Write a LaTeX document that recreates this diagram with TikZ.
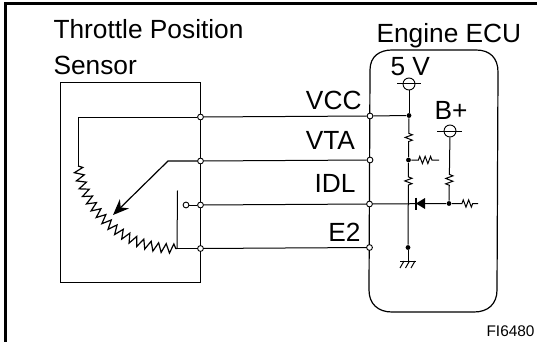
\documentclass[tikz,border=0pt]{standalone}
\usepackage{fontspec}
\setmainfont{Liberation Sans}
\usepackage{tikz}
\usetikzlibrary{arrows.meta,decorations.pathmorphing}
\tikzset{
	lbl/.style={inner sep=0pt,font=\fontsize{26.3}{30}\selectfont},
	smalllbl/.style={inner sep=0pt,font=\fontsize{15.4}{18}\selectfont},
	term/.style={circle,draw,fill=white,inner sep=0pt,minimum size=5.8pt,line width=0.9pt},
	junc/.style={circle,fill=black,inner sep=0pt,minimum size=4.8pt},
	supply/.style={circle,draw,fill=white,inner sep=0pt,minimum size=12pt,line width=0.9pt},
	res/.style={decorate,decoration={zigzag,segment length=5.4pt,amplitude=3.6pt}},
	potres/.style={decorate,decoration={zigzag,segment length=8pt,amplitude=4.6pt}},
}
\begin{document}
\begin{tikzpicture}[x=1pt,y=-1pt,line width=1pt]
		\useasboundingbox (0,0) rectangle (537,342);
		\def\sensorbox{(60.5,83) -- (200.5,83) -- (200.5,282.5) -- (60.5,282.5) -- cycle}
		\def\ecubox{(370,70) .. controls (370,56) and (380,50) .. (392,50) -- (476,50) .. controls (490,50) and (498,58) .. (498,72) -- (497,290) .. controls (497,304) and (488,312) .. (474,312) -- (392,312) .. controls (378,312) and (369,304) .. (369,290) -- cycle}
		\draw[line width=3pt] (537,4) -- (5,4) -- (5,342);
		\draw \sensorbox;
		\draw[line width=1.2pt] \ecubox;
		\node[lbl,anchor=base west] (throttle) at (53,39) {Throttle Position};
		\node[lbl,anchor=base west] (sensor) at (53,75) {Sensor};
		\node[lbl,anchor=base west] (ecu) at (376,43) {Engine ECU};
		\node[lbl,anchor=base west] (fivev) at (390,75.5) {5 V};
		\node[lbl,anchor=base west] (bplus) at (434,119) {B+};
		\node[lbl,anchor=base east] (vcc) at (362,110) {VCC};
		\node[lbl,anchor=base east] (vta) at (355.5,149) {VTA};
		\node[lbl,anchor=base east] (idl) at (356,192.5) {IDL};
		\node[lbl,anchor=base east] (etwo) at (361,241) {E2};
		\node[smalllbl,anchor=base east] (code) at (535,336) {FI6480};
		\node[term] (svcc) at (200.5,117) {};
		\node[term] (svta) at (200.5,161) {};
		\node[term] (sidl) at (200.5,205) {};
		\node[term] (setwo) at (200.5,248.5) {};
		\node[term] (evcc) at (370,116) {};
		\node[term] (evta) at (370,160) {};
		\node[term] (eidl) at (369.5,204) {};
		\node[term] (eetwo) at (369.5,247.5) {};
		\node[term] (contact) at (186,205) {};
		\node[supply] (fivesup) at (409,84) {};
		\node[supply] (bsup) at (450,131) {};
		\node[junc] (jvcc) at (409,115.5) {};
		\node[junc] (jvta) at (408.5,160) {};
		\node[junc] (jetwo) at (408,247.5) {};
		\node[junc] (jb) at (449,203.5) {};
		\coordinate (vccbend) at (78,117);
		\coordinate (potstart) at (78,166);
		\coordinate (potend) at (177,248.5);
		\coordinate (wiperbend) at (168,161);
		\coordinate (wipertip) at (113,215);
		\coordinate (contacttop) at (177.5,190.5);
		\coordinate (pullvta) at (439,160);
		\coordinate (pullb) at (478,203.5);
		\coordinate (gnd) at (408,261);
		\draw (svcc) -- (evcc);
		\draw (svta) -- (evta);
		\draw (sidl) -- (eidl);
		\draw (setwo) -- (eetwo);
		\draw (svcc) -- (vccbend) -- (potstart);
		\draw[line width=1.2pt,potres] (potstart) .. controls (83,207) and (120,250) .. (potend);
		\draw (potend) -- (setwo);
		\draw (potend) -- (contacttop);
		\draw (contact) -- (sidl);
		\draw[line width=1.2pt,-{Stealth[length=16pt,width=13pt]}] (svta) -- (wiperbend) -- (wipertip);
		\draw (evcc) -- (jvcc);
		\draw (fivesup) -- (jvcc);
		\draw[decoration={pre length=15pt,post length=14pt},res] (jvcc) -- (jvta);
		\draw[decoration={pre length=14pt,post length=57pt},res] (jvta) -- (jetwo);
		\draw[decoration={pre length=7pt,post length=6pt},res] (jvta) -- (pullvta);
		\draw[decoration={pre length=37pt,post length=13pt},res] (bsup) -- (jb);
		\draw[decoration={pre length=10pt,post length=5pt},res] (jb) -- (pullb);
		\draw (jetwo) -- (gnd);
		\draw ([xshift=-12pt]fivesup.center) -- ([xshift=12pt]fivesup.center);
		\draw ([xshift=-13pt]bsup.center) -- ([xshift=12pt]bsup.center);
		\draw (eidl) -- (jb);
		\fill (416,203.5) -- (425,198) -- (425,209) -- cycle;
		\draw[line width=1.4pt] (415.8,197.5) -- (415.8,209.5);
		\draw ([xshift=-8pt]gnd) -- ([xshift=8pt]gnd);
		\foreach \x in {404,409.5,415}
			\draw (\x,261) -- (\x-4,268);
	\end{tikzpicture}
\end{document}
